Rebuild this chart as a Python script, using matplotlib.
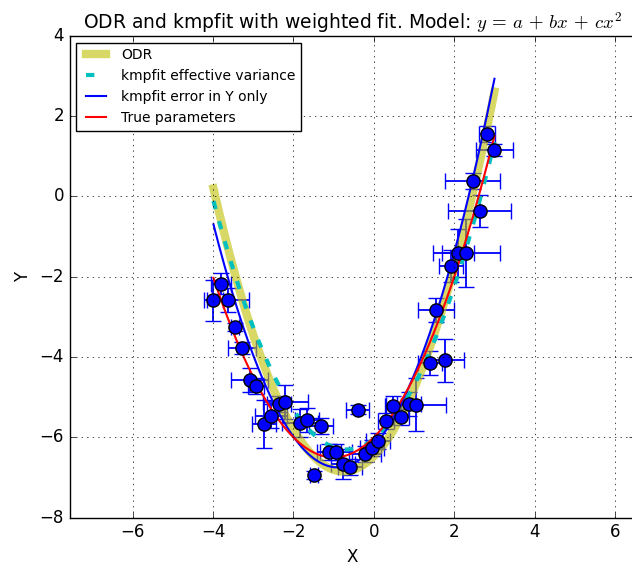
import numpy as np
import matplotlib
matplotlib.use('Agg')
import matplotlib.pyplot as plt

x = [-3.99, -3.80, -3.63, -3.45, -3.28, -3.09, -2.93, -2.74, -2.55, -2.36,
     -2.20, -1.84, -1.66, -1.31, -1.48, -1.12, -0.94, -0.76, -0.60, -0.40,
     -0.23, -0.04, 0.11, 0.31, 0.47, 0.68, 0.87, 1.04, 1.39, 1.76,
     1.55, 1.93, 2.09, 2.30, 2.63, 2.46, 3.00, 2.82]
y = [-2.59, -2.17, -2.59, -3.25, -3.78, -4.58, -4.73, -5.66, -5.47, -5.16,
     -5.12, -5.65, -5.57, -5.72, -6.94, -6.36, -6.37, -6.67, -6.75, -5.31,
     -6.42, -6.26, -6.09, -5.60, -5.22, -5.50, -5.16, -5.19, -4.16, -4.08,
     -2.84, -1.74, -1.41, -1.41, -0.36, 0.39, 1.16, 1.56]
xerr = [0.24, 0.25, 0.52, 0.10, 0.35, 0.46, 0.20, 0.30, 0.40, 0.30,
        0.55, 0.45, 0.30, 0.30, 0.10, 0.30, 0.40, 0.30, 0.30, 0.29,
        0.40, 0.30, 0.30, 0.20, 0.20, 0.20, 0.30, 0.75, 0.30, 0.49,
        0.45, 0.30, 0.40, 0.83, 0.78, 0.68, 0.45, 0.20]
yerr = [0.51, 0.27, 0.30, 0.10, 0.15, 0.30, 0.20, 0.60, 0.30, 0.20,
        0.42, 0.35, 0.30, 0.20, 0.10, 0.20, 0.20, 0.37, 0.20, 0.12,
        0.20, 0.20, 0.20, 0.20, 0.25, 0.20, 0.30, 0.66, 0.30, 0.54,
        0.30, 0.40, 0.60, 0.85, 0.40, 0.20, 0.15, 0.20]

# parabola parameters a, b, c for y = a + b*x + c*x^2
p_odr = [-6.47, 1.01, 0.672]
p_effvar = [-6.04, 0.77, 0.565]
p_yonly = [-6.23, 1.147, 0.635]
p_true = [-6.0, 1.0, 0.5]

def model(p, xx):
    a, b, c = p
    return a + b*xx + c*xx**2

plt.style.use('classic')
fig = plt.figure(figsize=(6.32, 5.68), dpi=100, facecolor='white')
ax = fig.add_axes([0.110, 0.0886, 0.895, 0.8486])

ax.errorbar(x, y, xerr=xerr, yerr=yerr, fmt='bo', ecolor='b', ms=9.5,
            mec='k', mew=1, capsize=6, elinewidth=1.3, capthick=1.3)

xs = np.linspace(min(x), max(x), 200)
ax.plot(xs, model(p_odr, xs), 'y', lw=6, alpha=0.6, label='ODR')
ax.plot(xs, model(p_effvar, xs), 'c', lw=3, dashes=(6, 9),
        label='kmpfit effective variance')
ax.plot(xs, model(p_yonly, xs), 'b', lw=1.5, label='kmpfit error in Y only')
ax.plot(xs, model(p_true, xs), 'r', lw=1.5, label='True parameters')

ax.set_xlim(-7.57, 6.5)
ax.set_ylim(-8, 4)
ax.set_xticks([-6, -4, -2, 0, 2, 4, 6])
ax.set_yticks([-8, -6, -4, -2, 0, 2, 4])
ax.grid(True)
ax.set_xlabel('X')
ax.set_ylabel('Y')
ax.set_title(r'ODR and kmpfit with weighted fit. Model: $y\,=\,a\,+\,bx\,+\,cx^2$',
             fontsize=13.5)
ax.legend(loc='upper left', fontsize=10)

fig.savefig('out.png', dpi=100, facecolor='white')
